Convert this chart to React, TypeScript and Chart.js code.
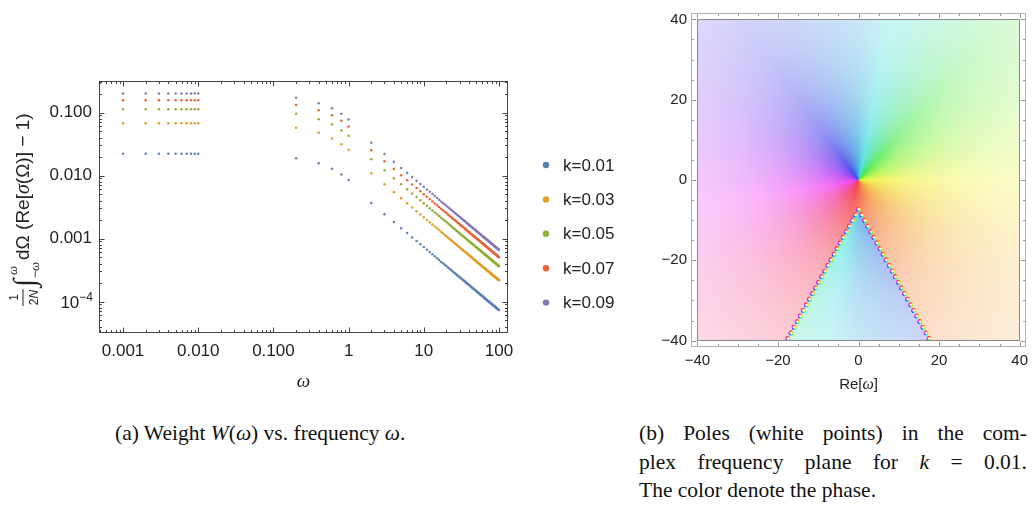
import React, { useEffect, useRef } from 'react';
import { Chart, registerables } from 'chart.js';
Chart.register(...registerables);

const SANS = "'Liberation Sans', Arial, Helvetica, sans-serif";
const SERIF = "'Liberation Serif', 'Times New Roman', serif";

// ---------- left panel data (W values in units of 1e-5) ----------
const UNIT = 1e-5;
const K_LABELS = ['k=0.01', 'k=0.03', 'k=0.05', 'k=0.07', 'k=0.09'];
const COLORS = ['#5E81B5', '#E19C24', '#8FB032', '#EB6235', '#8778B3'];

const OMEGA_LOW = [0.001, 0.002, 0.003, 0.004, 0.005, 0.006, 0.007, 0.008, 0.009, 0.010];
const OMEGA_MID = [0.2, 0.4, 0.6, 0.8, 1.0];
const OMEGA_HIGH = [2, 3, 4, 5, 6, 7, 8, 9, 10, 11, 12, 13, 14, 15, 16, 17, 18, 19, 20, 21, 22, 23, 24, 25, 26, 27, 28, 29, 30,
  31, 32, 33, 34, 35, 36, 37, 38, 39, 40, 41, 42, 43, 44, 45, 46, 47, 48, 49, 50, 51, 52, 53, 54, 55, 56, 57, 58, 59, 60,
  61, 62, 63, 64, 65, 66, 67, 68, 69, 70, 71, 72, 73, 74, 75, 76, 77, 78, 79, 80, 81, 82, 83, 84, 85, 86, 87, 88, 89, 90,
  91, 92, 93, 94, 95, 96, 97, 98, 99, 100];

const W_LOW_K01 = [2210, 2210, 2210, 2210, 2210, 2210, 2210, 2210, 2210, 2210];
const W_LOW_K03 = [6760, 6760, 6760, 6760, 6760, 6760, 6760, 6760, 6760, 6760];
const W_LOW_K05 = [11300, 11300, 11300, 11300, 11300, 11300, 11300, 11300, 11300, 11300];
const W_LOW_K07 = [15700, 15700, 15700, 15700, 15700, 15700, 15700, 15700, 15700, 15700];
const W_LOW_K09 = [20000, 20000, 20000, 20000, 20000, 20000, 20000, 20000, 20000, 20000];

const W_MID_K01 = [1880, 1570, 1280, 1040, 850];
const W_MID_K03 = [5710, 4750, 3870, 3140, 2560];
const W_MID_K05 = [9530, 7830, 6460, 5180, 4270];
const W_MID_K07 = [13200, 10900, 9070, 7380, 6000];
const W_MID_K09 = [17100, 14000, 11700, 9530, 7740];

const W_HIGH_K01 = [365, 243, 183, 146, 122, 104, 91.3, 81.1, 73.0,
  66.4, 60.8, 56.2, 52.1, 48.7, 45.6, 42.9, 40.6, 38.4, 36.5,
  34.8, 33.2, 31.7, 30.4, 29.2, 28.1, 27.0, 26.1, 25.2, 24.3,
  23.5, 22.8, 22.1, 21.5, 20.9, 20.3, 19.7, 19.2, 18.7, 18.3,
  17.8, 17.4, 17.0, 16.6, 16.2, 15.9, 15.5, 15.2, 14.9, 14.6,
  14.3, 14.0, 13.8, 13.5, 13.3, 13.0, 12.8, 12.6, 12.4, 12.2,
  12.0, 11.8, 11.6, 11.4, 11.2, 11.1, 10.9, 10.7, 10.6, 10.4,
  10.3, 10.1, 10.0, 9.86, 9.73, 9.61, 9.48, 9.36, 9.24, 9.13,
  9.01, 8.90, 8.80, 8.69, 8.59, 8.49, 8.39, 8.30, 8.20, 8.11,
  8.02, 7.93, 7.85, 7.77, 7.68, 7.60, 7.53, 7.45, 7.37, 7.30];
const W_HIGH_K03 = [1085, 723, 543, 434, 362, 310, 271, 241, 217,
  197, 181, 167, 155, 145, 136, 128, 121, 114, 109,
  103, 98.6, 94.3, 90.4, 86.8, 83.5, 80.4, 77.5, 74.8, 72.3,
  70.0, 67.8, 65.8, 63.8, 62.0, 60.3, 58.6, 57.1, 55.6, 54.3,
  52.9, 51.7, 50.5, 49.3, 48.2, 47.2, 46.2, 45.2, 44.3, 43.4,
  42.5, 41.7, 40.9, 40.2, 39.5, 38.8, 38.1, 37.4, 36.8, 36.2,
  35.6, 35.0, 34.4, 33.9, 33.4, 32.9, 32.4, 31.9, 31.4, 31.0,
  30.6, 30.1, 29.7, 29.3, 28.9, 28.6, 28.2, 27.8, 27.5, 27.1,
  26.8, 26.5, 26.1, 25.8, 25.5, 25.2, 24.9, 24.7, 24.4, 24.1,
  23.8, 23.6, 23.3, 23.1, 22.8, 22.6, 22.4, 22.1, 21.9, 21.7];
const W_HIGH_K05 = [1815, 1210, 908, 726, 605, 519, 454, 403, 363,
  330, 303, 279, 259, 242, 227, 214, 202, 191, 182,
  173, 165, 158, 151, 145, 140, 134, 130, 125, 121,
  117, 113, 110, 107, 104, 101, 98.1, 95.5, 93.1, 90.8,
  88.5, 86.4, 84.4, 82.5, 80.7, 78.9, 77.2, 75.6, 74.1, 72.6,
  71.2, 69.8, 68.5, 67.2, 66.0, 64.8, 63.7, 62.6, 61.5, 60.5,
  59.5, 58.5, 57.6, 56.7, 55.8, 55.0, 54.2, 53.4, 52.6, 51.9,
  51.1, 50.4, 49.7, 49.1, 48.4, 47.8, 47.1, 46.5, 45.9, 45.4,
  44.8, 44.3, 43.7, 43.2, 42.7, 42.2, 41.7, 41.3, 40.8, 40.3,
  39.9, 39.5, 39.0, 38.6, 38.2, 37.8, 37.4, 37.0, 36.7, 36.3];
const W_HIGH_K07 = [2525, 1683, 1263, 1010, 842, 721, 631, 561, 505,
  459, 421, 388, 361, 337, 316, 297, 281, 266, 253,
  240, 230, 220, 210, 202, 194, 187, 180, 174, 168,
  163, 158, 153, 149, 144, 140, 136, 133, 129, 126,
  123, 120, 117, 115, 112, 110, 107, 105, 103, 101,
  99.0, 97.1, 95.3, 93.5, 91.8, 90.2, 88.6, 87.1, 85.6, 84.2,
  82.8, 81.5, 80.2, 78.9, 77.7, 76.5, 75.4, 74.3, 73.2, 72.1,
  71.1, 70.1, 69.2, 68.2, 67.3, 66.4, 65.6, 64.7, 63.9, 63.1,
  62.3, 61.6, 60.8, 60.1, 59.4, 58.7, 58.0, 57.4, 56.7, 56.1,
  55.5, 54.9, 54.3, 53.7, 53.2, 52.6, 52.1, 51.5, 51.0, 50.5];
const W_HIGH_K09 = [3300, 2200, 1650, 1320, 1100, 943, 825, 733, 660,
  600, 550, 508, 471, 440, 413, 388, 367, 347, 330,
  314, 300, 287, 275, 264, 254, 244, 236, 228, 220,
  213, 206, 200, 194, 189, 183, 178, 174, 169, 165,
  161, 157, 153, 150, 147, 143, 140, 138, 135, 132,
  129, 127, 125, 122, 120, 118, 116, 114, 112, 110,
  108, 106, 105, 103, 102, 100, 98.5, 97.1, 95.7, 94.3,
  93.0, 91.7, 90.4, 89.2, 88.0, 86.8, 85.7, 84.6, 83.5, 82.5,
  81.5, 80.5, 79.5, 78.6, 77.6, 76.7, 75.9, 75.0, 74.2, 73.3,
  72.5, 71.7, 71.0, 70.2, 69.5, 68.8, 68.0, 67.3, 66.7, 66.0];

const X_TICKS = [0.001, 0.01, 0.1, 1, 10, 100];
const X_TICK_LABELS = ['0.001', '0.010', '0.100', '1', '10', '100'];
const Y_TICKS = [1e-4, 1e-3, 1e-2, 1e-1];
const Y_TICK_LABELS = ['', '0.001', '0.010', '0.100'];

// ---------- right panel data ----------
const RE_TICKS = [-40, -20, 0, 20, 40];
const RE_TICK_LABELS = ['\u221240', '\u221220', '0', '20', '40'];
const IM_TICKS = [-40, -20, 0, 20, 40];
const IM_TICK_LABELS = ['\u221240', '\u221220', '0', '20', '40'];

const POLE_RE = [0, 0.76, 1.52, 2.29, 3.05, 3.81, 4.57, 5.33, 6.09, 6.85, 7.62, 8.38, 9.14, 9.90, 10.66, 11.42,
  12.19, 12.95, 13.71, 14.47, 15.23, 15.99, 16.76, 17.52,
  -0.76, -1.52, -2.29, -3.05, -3.81, -4.57, -5.33, -6.09, -6.85, -7.62, -8.38, -9.14, -9.90, -10.66, -11.42,
  -12.19, -12.95, -13.71, -14.47, -15.23, -15.99, -16.76, -17.52];
const POLE_IM = [-7.3, -8.7, -10.1, -11.5, -12.9, -14.3, -15.7, -17.1, -18.5, -19.9, -21.3, -22.7, -24.1, -25.5, -26.9, -28.3,
  -29.7, -31.1, -32.5, -33.9, -35.3, -36.7, -38.1, -39.5,
  -8.7, -10.1, -11.5, -12.9, -14.3, -15.7, -17.1, -18.5, -19.9, -21.3, -22.7, -24.1, -25.5, -26.9, -28.3,
  -29.7, -31.1, -32.5, -33.9, -35.3, -36.7, -38.1, -39.5];
const CUT_APEX_IM = -7.3;
const CUT_SLOPE = 0.544;

// colour wheel (arg in degrees -> hue in degrees)
const ARG_KNOTS = [0, 45, 70, 90, 135, 180, 214, 243, 297, 326, 360];
const HUE_KNOTS = [60, 115, 165, 200, 250, 290, 325, 350, 385, 400, 420];

function hueForArg(deg: number) {
  const d = ((deg % 360) + 360) % 360;
  for (let i = 0; i < ARG_KNOTS.length - 1; i++) {
    if (d >= ARG_KNOTS[i] && d <= ARG_KNOTS[i + 1]) {
      const t = (d - ARG_KNOTS[i]) / (ARG_KNOTS[i + 1] - ARG_KNOTS[i]);
      return (HUE_KNOTS[i] + t * (HUE_KNOTS[i + 1] - HUE_KNOTS[i])) % 360;
    }
  }
  return HUE_KNOTS[0];
}

function hsv(h: number, s: number, v: number): [number, number, number] {
  const c = v * s;
  const hp = (((h % 360) + 360) % 360) / 60;
  const x = c * (1 - Math.abs((hp % 2) - 1));
  let r = 0, g = 0, b = 0;
  if (hp < 1) { r = c; g = x; } else if (hp < 2) { r = x; g = c; } else if (hp < 3) { g = c; b = x; }
  else if (hp < 4) { g = x; b = c; } else if (hp < 5) { r = x; b = c; } else { r = c; b = x; }
  const m = v - c;
  return [(r + m) * 255, (g + m) * 255, (b + m) * 255];
}

function baseColor(re: number, im: number): [number, number, number] {
  const r = Math.hypot(re, im);
  let arg = Math.atan2(im, re) * 180 / Math.PI;
  const inside = im < CUT_APEX_IM && Math.abs(re) < CUT_SLOPE * (CUT_APEX_IM - im);
  if (inside) arg += 180;
  const h = hueForArg(arg);
  const v = 0.95 - 0.08 * Math.max(0, Math.cos((h - 180) * Math.PI / 180));
  const c = hsv(h, 0.74, v);
  const f = 1 / (1 + Math.pow(r / 18, 1.2));
  return [255 * (1 - f) + c[0] * f, 255 * (1 - f) + c[1] * f, 255 * (1 - f) + c[2] * f];
}

// ---------- drawing helpers ----------
type Run = { t: string; f: string; dy?: number; dx?: number };
function drawRuns(ctx: CanvasRenderingContext2D, x: number, y: number, runs: Run[], align: 'left' | 'center' = 'left') {
  let w = 0;
  for (const r of runs) { ctx.font = r.f; w += ctx.measureText(r.t).width + (r.dx || 0); }
  let cx = align === 'center' ? x - w / 2 : x;
  ctx.textAlign = 'left';
  for (const r of runs) {
    ctx.font = r.f;
    cx += r.dx || 0;
    ctx.fillText(r.t, cx, y + (r.dy || 0));
    cx += ctx.measureText(r.t).width;
  }
  return cx;
}

const leftDecor = {
  id: 'leftDecor',
  afterDraw(chart: any) {
    const { ctx, chartArea: a, scales } = chart;
    const xs = scales.x, ys = scales.y;
    ctx.save();
    const L = Math.round(a.left) + 0.5, R = Math.round(a.right) - 0.5;
    const T = Math.round(a.top) + 0.5, B = Math.round(a.bottom) - 0.5;
    ctx.strokeStyle = '#444';
    ctx.lineWidth = 1;
    ctx.strokeRect(L, T, R - L, B - T);
    ctx.beginPath();
    for (let d = -5; d <= 3; d++) {
      for (let m = 1; m <= 9; m++) {
        const v = m * Math.pow(10, d);
        const len = m === 1 ? 5 : 2.5;
        if (v >= xs.min && v <= xs.max) {
          const px = Math.round(xs.getPixelForValue(v)) + 0.5;
          ctx.moveTo(px, B); ctx.lineTo(px, B - len);
          ctx.moveTo(px, T); ctx.lineTo(px, T + len);
        }
        if (v >= ys.min && v <= ys.max) {
          const py = Math.round(ys.getPixelForValue(v)) + 0.5;
          ctx.moveTo(L, py); ctx.lineTo(L + len, py);
          ctx.moveTo(R, py); ctx.lineTo(R - len, py);
        }
      }
    }
    ctx.stroke();

    // 10^-4 label
    ctx.fillStyle = '#222';
    ctx.textBaseline = 'alphabetic';
    const py4 = ys.getPixelForValue(1e-4);
    ctx.font = `12px ${SANS}`;
    const supW = ctx.measureText('\u22124').width;
    const right = a.left - 6;
    ctx.textAlign = 'left';
    ctx.fillText('\u22124', right - supW, py4 - 1);
    ctx.font = `17px ${SANS}`;
    ctx.textAlign = 'right';
    ctx.fillText('10', right - supW, py4 + 6);

    // x title
    ctx.textAlign = 'center';
    ctx.font = `italic 19px ${SERIF}`;
    ctx.fillText('\u03c9', (a.left + a.right) / 2, 387);

    // y title (rotated)
    ctx.save();
    ctx.translate(29, 306);
    ctx.rotate(-Math.PI / 2);
    ctx.textAlign = 'center';
    ctx.font = `12px ${SANS}`;
    ctx.fillText('1', 8.5, -11);
    drawRuns(ctx, 8.5, 9, [{ t: '2', f: `12px ${SANS}` }, { t: 'N', f: `italic 12px ${SANS}` }], 'center');
    ctx.fillRect(0, -6.5, 17, 1);
    ctx.textAlign = 'left';
    ctx.font = `30px ${SERIF}`;
    ctx.fillText('\u222b', 19, 5);
    drawRuns(ctx, 28, 10, [{ t: '\u2212', f: `12px ${SANS}` }, { t: '\u03c9', f: `italic 13px ${SERIF}` }]);
    drawRuns(ctx, 31, -12, [{ t: '\u03c9', f: `italic 13px ${SERIF}` }]);
    drawRuns(ctx, 46, 0, [
      { t: 'd\u03a9 (Re[', f: `19px ${SANS}` },
      { t: '\u03c3', f: `italic 20px ${SERIF}` },
      { t: '(\u03a9)] \u2212 1)', f: `19px ${SANS}` },
    ]);
    ctx.restore();

    // legend
    chart.data.datasets.forEach((ds: any, i: number) => {
      const cy = 165 + i * 34.4;
      ctx.fillStyle = ds.backgroundColor;
      ctx.beginPath();
      ctx.arc(546, cy, 3.2, 0, Math.PI * 2);
      ctx.fill();
      ctx.fillStyle = '#222';
      ctx.font = `17px ${SANS}`;
      ctx.textAlign = 'left';
      ctx.textBaseline = 'middle';
      ctx.fillText(ds.label, 563, cy + 1);
    });
    ctx.restore();
  },
};

const phaseBackground = {
  id: 'phaseBackground',
  beforeDatasetsDraw(chart: any) {
    const { ctx, scales } = chart;
    const xs = scales.x, ys = scales.y;
    const x0 = Math.round(xs.getPixelForValue(-40)), x1 = Math.round(xs.getPixelForValue(40));
    const y0 = Math.round(ys.getPixelForValue(40)), y1 = Math.round(ys.getPixelForValue(-40));
    const w = x1 - x0, h = y1 - y0;
    const img = ctx.createImageData(w, h);
    const ds = chart.data.datasets[0].data as { x: number; y: number }[];
    const PR = 0.72;
    for (let j = 0; j < h; j++) {
      const im = ys.getValueForPixel(y0 + j + 0.5);
      for (let i = 0; i < w; i++) {
        const re = xs.getValueForPixel(x0 + i + 0.5);
        let c = baseColor(re, im);
        for (let k = 0; k < ds.length; k++) {
          const dx = re - ds[k].x, dy = im - ds[k].y;
          if (Math.abs(dx) > PR || Math.abs(dy) > PR) continue;
          const d = Math.hypot(dx, dy);
          if (d < PR) {
            const t = d / PR;
            const pc = hsv(hueForArg(-Math.atan2(dy, dx) * 180 / Math.PI), 0.8, 0.97);
            const f = Math.min(1, t * 1.5);
            const pr = [255 * (1 - f) + pc[0] * f, 255 * (1 - f) + pc[1] * f, 255 * (1 - f) + pc[2] * f];
            const bl = t > 0.8 ? (t - 0.8) / 0.2 : 0;
            c = [pr[0] * (1 - bl) + c[0] * bl, pr[1] * (1 - bl) + c[1] * bl, pr[2] * (1 - bl) + c[2] * bl];
            break;
          }
        }
        const p = (j * w + i) * 4;
        img.data[p] = c[0]; img.data[p + 1] = c[1]; img.data[p + 2] = c[2]; img.data[p + 3] = 255;
      }
    }
    ctx.putImageData(img, x0, y0);
  },
  afterDraw(chart: any) {
    const { ctx, chartArea: a, scales } = chart;
    const xs = scales.x, ys = scales.y;
    ctx.save();
    const ix0 = Math.round(xs.getPixelForValue(-40)) + 0.5, ix1 = Math.round(xs.getPixelForValue(40)) - 0.5;
    const iy0 = Math.round(ys.getPixelForValue(40)) + 0.5, iy1 = Math.round(ys.getPixelForValue(-40)) - 0.5;
    ctx.strokeStyle = '#8a8a8a';
    ctx.lineWidth = 1;
    ctx.strokeRect(ix0, iy0, ix1 - ix0, iy1 - iy0);
    const L = Math.round(a.left) + 0.5, R = Math.round(a.right) - 0.5;
    const T = Math.round(a.top) + 0.5, B = Math.round(a.bottom) - 0.5;
    ctx.strokeStyle = '#b4b4b4';
    ctx.strokeRect(L, T, R - L, B - T);
    ctx.strokeStyle = '#9a9a9a';
    ctx.beginPath();
    for (let v = -40; v <= 40; v += 5) {
      const len = v % 20 === 0 ? 4.5 : 2.5;
      const px = Math.round(xs.getPixelForValue(v)) + 0.5;
      ctx.moveTo(px, B); ctx.lineTo(px, B - len);
      ctx.moveTo(px, T); ctx.lineTo(px, T + len);
      const py = Math.round(ys.getPixelForValue(v)) + 0.5;
      ctx.moveTo(L, py); ctx.lineTo(L + len, py);
      ctx.moveTo(R, py); ctx.lineTo(R - len, py);
    }
    ctx.stroke();
    ctx.fillStyle = '#222';
    ctx.textBaseline = 'alphabetic';
    drawRuns(ctx, (a.left + a.right) / 2, 389, [
      { t: 'Re[', f: `15px ${SANS}` }, { t: '\u03c9', f: `italic 16px ${SERIF}` }, { t: ']', f: `15px ${SANS}` }], 'center');
    ctx.save();
    ctx.translate(653, (a.top + a.bottom) / 2);
    ctx.rotate(-Math.PI / 2);
    drawRuns(ctx, 0, 0, [
      { t: 'Im[', f: `15px ${SANS}` }, { t: '\u03c9', f: `italic 16px ${SERIF}` }, { t: ']', f: `15px ${SANS}` }], 'center');
    ctx.restore();
    ctx.restore();
  },
};

function LeftChart() {
  const ref = useRef<HTMLCanvasElement>(null);
  useEffect(() => {
    const lows = [W_LOW_K01, W_LOW_K03, W_LOW_K05, W_LOW_K07, W_LOW_K09];
    const mids = [W_MID_K01, W_MID_K03, W_MID_K05, W_MID_K07, W_MID_K09];
    const highs = [W_HIGH_K01, W_HIGH_K03, W_HIGH_K05, W_HIGH_K07, W_HIGH_K09];
    const datasets = K_LABELS.map((label, i) => ({
      label,
      data: [
        ...OMEGA_LOW.map((x, j) => ({ x, y: lows[i][j] * UNIT })),
        ...OMEGA_MID.map((x, j) => ({ x, y: mids[i][j] * UNIT })),
        ...OMEGA_HIGH.map((x, j) => ({ x, y: highs[i][j] * UNIT })),
      ],
      backgroundColor: COLORS[i],
      borderWidth: 0,
      pointRadius: 1.25,
      pointHoverRadius: 1.25,
    }));
    const chart = new Chart(ref.current!, {
      type: 'scatter',
      data: { datasets },
      options: {
        responsive: false,
        animation: false,
        events: [],
        layout: { padding: { left: 0, right: 132, top: 81, bottom: 27 } },
        plugins: { legend: { display: false }, tooltip: { enabled: false } },
        scales: {
          x: {
            type: 'logarithmic',
            min: Math.pow(10, -3.32),
            max: Math.pow(10, 2.12),
            grid: { display: false, drawTicks: false },
            border: { display: false },
            afterBuildTicks: (s: any) => { s.ticks = X_TICKS.map((v) => ({ value: v })); },
            afterFit: (s: any) => { s.height = 40; },
            ticks: {
              autoSkip: false, maxRotation: 0, padding: 8, color: '#222',
              font: { family: SANS, size: 17 },
              callback: (_v: any, i: number) => X_TICK_LABELS[i],
            },
          },
          y: {
            type: 'logarithmic',
            min: Math.pow(10, -4.5),
            max: Math.pow(10, -0.5),
            grid: { display: false, drawTicks: false },
            border: { display: false },
            afterBuildTicks: (s: any) => { s.ticks = Y_TICKS.map((v) => ({ value: v })); },
            afterFit: (s: any) => { s.width = 99; },
            ticks: {
              autoSkip: false, padding: 7, color: '#222',
              font: { family: SANS, size: 17 },
              callback: (_v: any, i: number) => Y_TICK_LABELS[i],
            },
          },
        },
      },
      plugins: [leftDecor],
    });
    return () => chart.destroy();
  }, []);
  return <canvas ref={ref} width={640} height={400} style={{ position: 'absolute', left: 0, top: 0 }} />;
}

function RightChart() {
  const ref = useRef<HTMLCanvasElement>(null);
  useEffect(() => {
    const chart = new Chart(ref.current!, {
      type: 'scatter',
      data: {
        datasets: [{
          label: 'poles',
          data: POLE_RE.map((x, i) => ({ x, y: POLE_IM[i] })),
          backgroundColor: '#ffffff',
          borderWidth: 0,
          pointRadius: 1.0,
          pointHoverRadius: 1.0,
        }],
      },
      options: {
        responsive: false,
        animation: false,
        events: [],
        layout: { padding: { left: 0, right: 0, top: 6, bottom: 13 } },
        plugins: { legend: { display: false }, tooltip: { enabled: false } },
        scales: {
          x: {
            type: 'linear', min: -41.6, max: 41.6,
            grid: { display: false, drawTicks: false },
            border: { display: false },
            afterBuildTicks: (s: any) => { s.ticks = RE_TICKS.map((v) => ({ value: v })); },
            afterFit: (s: any) => { s.height = 40; },
            ticks: {
              autoSkip: false, maxRotation: 0, padding: 5, color: '#222',
              font: { family: SANS, size: 15 },
              callback: (_v: any, i: number) => RE_TICK_LABELS[i],
            },
          },
          y: {
            type: 'linear', min: -41.6, max: 41.6,
            grid: { display: false, drawTicks: false },
            border: { display: false },
            afterBuildTicks: (s: any) => { s.ticks = IM_TICKS.map((v) => ({ value: v })); },
            afterFit: (s: any) => { s.width = 51; },
            ticks: {
              autoSkip: false, padding: 4, color: '#222',
              font: { family: SANS, size: 15 },
              callback: (_v: any, i: number) => IM_TICK_LABELS[i],
            },
          },
        },
      },
      plugins: [phaseBackground],
    });
    return () => chart.destroy();
  }, []);
  return <canvas ref={ref} width={393} height={400} style={{ position: 'absolute', left: 640, top: 0 }} />;
}

export default function App() {
  useEffect(() => {
    document.body.style.overflow = 'hidden';
  }, []);
  const cap: React.CSSProperties = { fontFamily: SERIF, fontSize: 21.5, color: '#111', lineHeight: '28.5px' };
  return (
    <div style={{ position: 'absolute', left: 0, top: 0, width: 1033, height: 509, background: '#fff', overflow: 'hidden' }}>
      <LeftChart />
      <RightChart />
      <div style={{ ...cap, position: 'absolute', left: 115, top: 419, whiteSpace: 'nowrap' }}>
        (a) Weight <i>W</i>(<i>ω</i>) vs. frequency <i>ω</i>.
      </div>
      <div style={{ ...cap, position: 'absolute', left: 639, top: 419, width: 388 }}>
        <div style={{ textAlign: 'justify', textAlignLast: 'justify' }}>(b) Poles (white points) in the com-</div>
        <div style={{ textAlign: 'justify', textAlignLast: 'justify' }}>plex frequency plane for <i>k</i> = 0.01.</div>
        <div style={{ textAlign: 'left' }}>The color denote the phase.</div>
      </div>
    </div>
  );
}
